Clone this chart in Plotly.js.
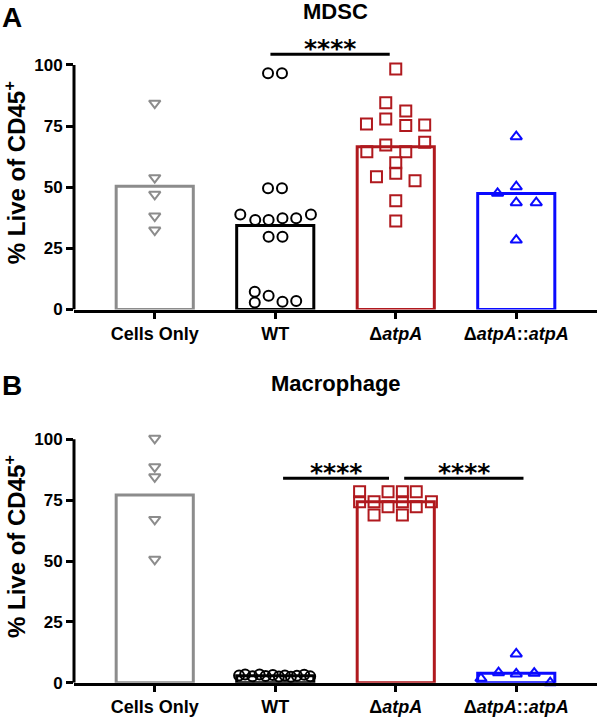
<!DOCTYPE html>
<html>
<head>
<meta charset="utf-8">
<script src="https://cdn.plot.ly/plotly-3.0.1.min.js"></script>
<style>
  html, body { margin: 0; padding: 0; background: #fff; }
  #chart { width: 600px; height: 717px; }
</style>
</head>
<body>
<div id="chart"></div>
<script>
// groups and labels
const groups = ['Cells Only', 'WT', 'ΔatpA', 'ΔatpA::atpA'];
const tickLabels = ['Cells Only', 'WT', 'Δ<i>atpA</i>', 'Δ<i>atpA</i>::<i>atpA</i>'];
const groupColors = ['#8c8c8c', '#000000', '#b0191e', '#0a0aff'];
const groupSymbols = ['triangle-down-open', 'circle-open', 'square-open', 'triangle-up-open'];

// panel A - MDSC
const mdscMeans = [50.4, 34.4, 66.6, 47.4];
const mdscCellsOnly = [84.4, 53.9, 47.1, 38.2, 32.5];
const mdscCellsOnlyJitter = [0, 0, 0, 0, 0];
const mdscWT = [96.6, 96.6, 49.6, 49.6, 38.9, 36.6, 36.6, 37.3, 37.3, 38.9, 29.8, 29.8, 7.3, 2.9, 5.6, 3.2, 3.5];
const mdscWTJitter = [-0.06, 0.056, -0.06, 0.056, -0.29, -0.166, -0.055, 0.06, 0.174, 0.296, -0.055, 0.06, -0.17, -0.17, -0.055, 0.06, 0.174];
const mdscDelta = [98.4, 84.6, 81.2, 75.9, 77.9, 75.2, 75.5, 68.4, 64.5, 67.3, 64.5, 60.0, 55.7, 54.3, 52.7, 44.5, 36.2];
const mdscDeltaJitter = [0, -0.083, 0.083, -0.243, -0.083, 0.083, 0.24, 0.24, -0.24, -0.083, 0.083, 0, 0, -0.16, 0.16, 0, 0];
const mdscComp = [70.7, 50.2, 47.5, 43.7, 43.7, 28.4];
const mdscCompJitter = [0, 0, -0.155, 0, 0.166, 0];

// panel B - Macrophage
const macMeans = [77.1, 2.9, 74.4, 3.9];
const macCellsOnly = [100.4, 88.7, 84.6, 67.1, 50.7];
const macCellsOnlyJitter = [0, 0, 0, 0, 0];
const macWT = [3.0, 3.4, 2.6, 3.4, 2.8, 3.2, 2.5, 3.0, 2.4, 2.9, 3.3, 2.6];
const macWTJitter = [-0.3, -0.25, -0.19, -0.13, -0.08, -0.02, 0.03, 0.08, 0.13, 0.18, 0.24, 0.29];
const macDelta = [78.5, 78.5, 78.5, 78.5, 74.4, 74.4, 74.4, 74.4, 72.3, 72.3, 68.9, 68.9];
const macDeltaJitter = [-0.3, -0.064, 0.055, 0.17, -0.3, -0.18, 0.055, 0.296, -0.064, 0.17, -0.18, 0.055];
const macComp = [11.8, 1.8, 4.1, 3.6, 3.9, 0.0];
const macCompJitter = [0, -0.293, -0.147, 0, 0.149, 0.282];

// significance brackets: [from, to, level]
const sigA = [[0.96, 1.95, 104.4]];
const sigB = [[1.065, 1.944, 84.0], [2.07, 3.06, 84.0]];

const FONT = 'Liberation Sans, Arial, sans-serif';
const barWidth = 0.64;

function panelTraces(means, points, jitters, xa, ya) {
    const traces = [{
        type: 'bar',
        x: [0, 1, 2, 3],
        y: means,
        width: barWidth,
        xaxis: xa, yaxis: ya,
        marker: { color: 'rgba(255,255,255,0)', line: { color: groupColors, width: 3 } },
        hoverinfo: 'skip',
        showlegend: false
    }];
    points.forEach((vals, g) => {
        traces.push({
            type: 'scatter',
            mode: 'markers',
            name: groups[g],
            x: vals.map((_, i) => g + jitters[g][i]),
            y: vals,
            xaxis: xa, yaxis: ya,
            cliponaxis: false,
            marker: {
                symbol: groupSymbols[g],
                size: g === 2 ? 11 : 10,
                color: groupColors[g],
                line: { width: 2 }
            },
            showlegend: false
        });
    });
    return traces;
}

const data = [
    ...panelTraces(mdscMeans, [mdscCellsOnly, mdscWT, mdscDelta, mdscComp],
        [mdscCellsOnlyJitter, mdscWTJitter, mdscDeltaJitter, mdscCompJitter], 'x', 'y'),
    ...panelTraces(macMeans, [macCellsOnly, macWT, macDelta, macComp],
        [macCellsOnlyJitter, macWTJitter, macDeltaJitter, macCompJitter], 'x2', 'y2')
];

function xAxis(anchor) {
    return {
        anchor: anchor,
        range: [-0.67, 3.67],
        tickvals: [0, 1, 2, 3],
        ticktext: tickLabels,
        ticks: 'outside', ticklen: 6, tickwidth: 3, tickcolor: '#000',
        showline: true, linewidth: 3, linecolor: '#000',
        showgrid: false, zeroline: false,
        tickfont: { family: FONT, size: 18, weight: 'bold', color: '#000' },
        fixedrange: true
    };
}

function yAxis(anchor, domain) {
    return {
        anchor: anchor,
        domain: domain,
        range: [0, 112],
        tickvals: [0, 25, 50, 75, 100],
        ticks: 'outside', ticklen: 7, tickwidth: 3, tickcolor: '#000',
        showline: false,
        showgrid: false, zeroline: false,
        tickfont: { family: FONT, size: 17, weight: 'bold', color: '#000' },
        title: {
            text: '% Live of CD45<sup>+</sup>',
            font: { family: FONT, size: 24, weight: 'bold', color: '#000' },
            standoff: 8
        },
        fixedrange: true
    };
}

// y axis lines only run up to 100, as in the figure
const shapes = [
    { type: 'line', xref: 'paper', yref: 'y', x0: 0, x1: 0, y0: 0, y1: 100,
      line: { color: '#000', width: 3 } },
    { type: 'line', xref: 'paper', yref: 'y2', x0: 0, x1: 0, y0: 0, y1: 100,
      line: { color: '#000', width: 3 } }
];
const annotations = [
    { text: '<b>A</b>', xref: 'paper', yref: 'paper', x: -0.1415, y: 0.976, xanchor: 'left', yanchor: 'middle',
      showarrow: false, font: { family: FONT, size: 28, color: '#000' } },
    { text: '<b>B</b>', xref: 'paper', yref: 'paper', x: -0.1415, y: 0.463, xanchor: 'left', yanchor: 'middle',
      showarrow: false, font: { family: FONT, size: 28, color: '#000' } },
    { text: '<b>MDSC</b>', xref: 'paper', yref: 'paper', x: 0.5, y: 0.9837, xanchor: 'center', yanchor: 'middle',
      showarrow: false, font: { family: FONT, size: 22, color: '#000' } },
    { text: '<b>Macrophage</b>', xref: 'paper', yref: 'paper', x: 0.5, y: 0.465, xanchor: 'center', yanchor: 'middle',
      showarrow: false, font: { family: FONT, size: 22, color: '#000' } }
];

function addSig(list, xa, ya) {
    list.forEach(([a, b, lvl]) => {
        shapes.push({ type: 'line', xref: xa, yref: ya, x0: a, x1: b, y0: lvl, y1: lvl,
            line: { color: '#000', width: 3 } });
        annotations.push({ text: '<b>****</b>', xref: xa, yref: ya, x: (a + b) / 2, y: lvl, yanchor: 'bottom',
            xanchor: 'center', showarrow: false, yshift: -11,
            font: { family: 'DejaVu Sans', size: 25, color: '#000' } });
    });
}
addSig(sigA, 'x', 'y');
addSig(sigB, 'x2', 'y2');

const layout = {
    width: 600,
    height: 717,
    margin: { l: 74, r: 3, t: 0, b: 0 },
    paper_bgcolor: '#fff',
    plot_bgcolor: 'rgba(0,0,0,0)',
    font: { family: FONT, color: '#000' },
    showlegend: false,
    bargap: 0,
    xaxis: xAxis('y'),
    yaxis: yAxis('x', [0.5683, 0.9503]),
    xaxis2: xAxis('y2'),
    yaxis2: yAxis('x2', [0.04784, 0.428]),
    shapes: shapes,
    annotations: annotations
};

Plotly.newPlot('chart', data, layout, { staticPlot: true });
</script>
</body>
</html>
